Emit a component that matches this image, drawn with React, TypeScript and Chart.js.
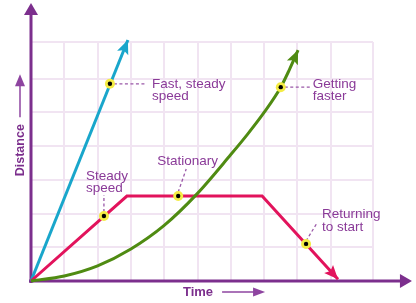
import React, { useEffect, useRef } from "react";
import { Chart, registerables } from "chart.js";

Chart.register(...registerables);

// ---- data (in grid units: time / distance) ----
const fastX = [0, 2.91];
const fastY = [0, 7.15];

const steadyX = [0, 2.88, 6.94, 9.22];
const steadyY = [0, 2.52, 2.52, 0.05];

const accelX = [0, 1, 2, 3, 4, 5, 6, 6.5, 7, 7.5, 7.75, 8.02];
const accelY = [0, 0.15, 0.45, 0.95, 1.65, 2.6, 3.75, 4.35, 5.0, 5.75, 6.25, 6.85];

const markerX = [2.37, 7.5, 2.19, 4.42, 8.26];
const markerY = [5.85, 5.75, 1.93, 2.52, 1.1];

const labelLines = [
  ["Fast, steady", "speed"],
  ["Getting", "faster"],
  ["Steady", "speed"],
  ["Stationary"],
  ["Returning", "to start"],
];

const xAxisTitle = "Time";
const yAxisTitle = "Distance";

// ---- styles / layout ----
const PURPLE = "#7C2F8D";
const TEXT = "#8A3A98";
const LEADER = "#9A58A8";
const GRID = "#F1E4F2";
const BLUE = "#19A6CB";
const RED = "#E2135C";
const GREEN = "#4F8B12";
const FONT = "'Liberation Sans', Arial, sans-serif";

// label layout relative to each marker (pixels)
const labelLayout = [
  { lead: [4, 0, 36, 0], tx: 42, ty: [4, 16] },
  { lead: [4, 0, 29, 0], tx: 32, ty: [1, 13] },
  { lead: [0, -4, 0, -21], tx: -18, ty: [-36, -24] },
  { lead: [0, -4, 8, -27], tx: -21, ty: [-31] },
  { lead: [0, -3, 11, -21], tx: 16, ty: [-26, -13] },
];

const pts = (xs: number[], ys: number[]) => xs.map((x, i) => ({ x, y: ys[i] }));

function arrowHead(ctx: CanvasRenderingContext2D, tx: number, ty: number, ang: number, len: number, half: number, color: string) {
  ctx.save();
  ctx.translate(tx, ty);
  ctx.rotate(ang);
  ctx.beginPath();
  ctx.moveTo(0, 0);
  ctx.lineTo(-len, -half);
  ctx.lineTo(-len * 0.8, 0);
  ctx.lineTo(-len, half);
  ctx.closePath();
  ctx.fillStyle = color;
  ctx.fill();
  ctx.restore();
}

const decor = {
  id: "decor",
  beforeDatasetsDraw(chart: any) {
    const ctx: CanvasRenderingContext2D = chart.ctx;
    const xs = chart.scales.x;
    const ys = chart.scales.y;
    const ox = xs.getPixelForValue(0);
    const oy = ys.getPixelForValue(0);
    const xEnd = xs.getPixelForValue(11.44);
    const yEnd = ys.getPixelForValue(8.25);
    ctx.save();
    // axes
    ctx.strokeStyle = PURPLE;
    ctx.lineWidth = 3;
    ctx.beginPath();
    ctx.moveTo(ox - 2, oy);
    ctx.lineTo(xEnd - 10, oy);
    ctx.moveTo(ox, oy + 2);
    ctx.lineTo(ox, yEnd + 10);
    ctx.stroke();
    ctx.fillStyle = PURPLE;
    ctx.beginPath();
    ctx.moveTo(xEnd, oy);
    ctx.lineTo(xEnd - 12, oy - 7);
    ctx.lineTo(xEnd - 12, oy + 7);
    ctx.closePath();
    ctx.fill();
    ctx.beginPath();
    ctx.moveTo(ox, yEnd);
    ctx.lineTo(ox - 7, yEnd + 12);
    ctx.lineTo(ox + 7, yEnd + 12);
    ctx.closePath();
    ctx.fill();

    // axis titles
    ctx.font = `bold 13px ${FONT}`;
    ctx.fillStyle = PURPLE;
    ctx.textAlign = "left";
    ctx.textBaseline = "alphabetic";
    const tX = xs.getPixelForValue(4.564);
    ctx.fillText(xAxisTitle, tX, oy + 15);
    const tw = ctx.measureText(xAxisTitle).width;
    ctx.strokeStyle = "#8E44A0";
    ctx.lineWidth = 1.5;
    ctx.beginPath();
    ctx.moveTo(tX + tw + 9, oy + 11);
    ctx.lineTo(tX + tw + 42, oy + 11);
    ctx.stroke();
    ctx.fillStyle = "#8E44A0";
    ctx.beginPath();
    ctx.moveTo(tX + tw + 52, oy + 11);
    ctx.lineTo(tX + tw + 40, oy + 6.5);
    ctx.lineTo(tX + tw + 40, oy + 15.5);
    ctx.closePath();
    ctx.fill();

    ctx.save();
    const dX = ox - 7;
    const dY = ys.getPixelForValue(3.88);
    ctx.translate(dX, dY);
    ctx.rotate(-Math.PI / 2);
    ctx.font = `bold 12.5px ${FONT}`;
    ctx.fillStyle = PURPLE;
    ctx.textAlign = "center";
    ctx.fillText(yAxisTitle, 0, 0);
    ctx.restore();
    ctx.strokeStyle = "#8E44A0";
    ctx.lineWidth = 1.5;
    ctx.beginPath();
    ctx.moveTo(ox - 11, dY - 33);
    ctx.lineTo(ox - 11, dY - 70);
    ctx.stroke();
    ctx.fillStyle = "#8E44A0";
    ctx.beginPath();
    ctx.moveTo(ox - 11, dY - 76);
    ctx.lineTo(ox - 16, dY - 64);
    ctx.lineTo(ox - 6, dY - 64);
    ctx.closePath();
    ctx.fill();

    // leaders
    ctx.strokeStyle = LEADER;
    ctx.lineWidth = 1.3;
    ctx.setLineDash([3, 2.5]);
    markerX.forEach((mx, i) => {
      const px = xs.getPixelForValue(mx);
      const py = ys.getPixelForValue(markerY[i]);
      const l = labelLayout[i].lead;
      ctx.beginPath();
      ctx.moveTo(px + l[0], py + l[1]);
      ctx.lineTo(px + l[2], py + l[3]);
      ctx.stroke();
    });
    ctx.setLineDash([]);
    ctx.restore();
  },
  afterDatasetsDraw(chart: any) {
    const ctx: CanvasRenderingContext2D = chart.ctx;
    const xs = chart.scales.x;
    const ys = chart.scales.y;
    ctx.save();
    // arrowheads on the three lines
    [0, 1, 2].forEach((di) => {
      const meta = chart.getDatasetMeta(di);
      const els = meta.data;
      const last = els[els.length - 1];
      const prev = els[els.length - 2];
      let fx = prev.x;
      let fy = prev.y;
      if (last.cp1x !== undefined && Math.abs(last.cp1x - last.x) + Math.abs(last.cp1y - last.y) > 0.5) {
        fx = last.cp1x;
        fy = last.cp1y;
      }
      const ang = Math.atan2(last.y - fy, last.x - fx);
      arrowHead(ctx, last.x, last.y, ang, 14, 6, chart.data.datasets[di].borderColor);
    });
    // labels
    ctx.font = `13.5px ${FONT}`;
    ctx.fillStyle = TEXT;
    ctx.textAlign = "left";
    ctx.textBaseline = "alphabetic";
    markerX.forEach((mx, i) => {
      const px = xs.getPixelForValue(mx);
      const py = ys.getPixelForValue(markerY[i]);
      const lay = labelLayout[i];
      labelLines[i].forEach((t, j) => {
        ctx.fillText(t, px + lay.tx, py + lay.ty[j]);
      });
    });
    ctx.restore();
  },
};

export default function App() {
  const ref = useRef<HTMLCanvasElement>(null);
  useEffect(() => {
    if (!ref.current) return;
    const chart = new Chart(ref.current, {
      type: "line",
      data: {
        datasets: [
          {
            label: "green",
            data: pts(accelX, accelY),
            borderColor: GREEN,
            borderWidth: 3,
            pointRadius: 0,
            cubicInterpolationMode: "monotone",
            order: 2,
          },
          {
            label: "red",
            data: pts(steadyX, steadyY),
            borderColor: RED,
            borderWidth: 3,
            pointRadius: 0,
            tension: 0,
            order: 3,
          },
          {
            label: "blue",
            data: pts(fastX, fastY),
            borderColor: BLUE,
            borderWidth: 3,
            pointRadius: 0,
            tension: 0,
            order: 3,
          },
          {
            label: "halo",
            data: pts(markerX, markerY),
            showLine: false,
            pointRadius: 5,
            pointBackgroundColor: "#F4EC45",
            pointBorderWidth: 0,
            borderColor: "transparent",
            order: 1,
          },
          {
            label: "dot",
            data: pts(markerX, markerY),
            showLine: false,
            pointRadius: 2.2,
            pointBackgroundColor: "#000",
            pointBorderWidth: 0,
            borderColor: "transparent",
            order: 0,
          },
        ],
      } as any,
      options: {
        animation: false,
        responsive: false,
        devicePixelRatio: 1,
        clip: false as any,
        layout: { padding: { left: 31, top: 42, right: 43, bottom: 22 } },
        plugins: { legend: { display: false }, tooltip: { enabled: false } },
        events: [],
        scales: {
          x: {
            type: "linear",
            min: 0,
            max: 10.27,
            ticks: { display: false, stepSize: 1 },
            grid: { color: GRID, lineWidth: 2, drawTicks: false },
            border: { display: false },
          },
          y: {
            type: "linear",
            min: 0,
            max: 7.09,
            ticks: { display: false, stepSize: 1 },
            grid: { color: GRID, lineWidth: 2, drawTicks: false },
            border: { display: false },
          },
        },
      },
      plugins: [decor],
    });
    return () => chart.destroy();
  }, []);
  return (
    <div style={{ position: "absolute", left: 0, top: 0, width: 416, height: 303, background: "#fff" }}>
      <canvas ref={ref} width={416} height={303} />
    </div>
  );
}
